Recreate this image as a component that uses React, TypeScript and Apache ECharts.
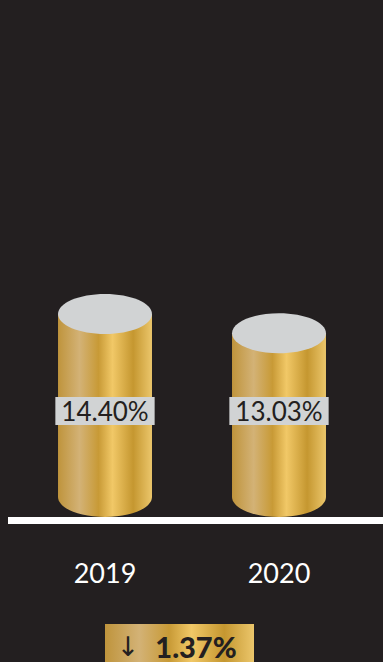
import React, { useEffect, useRef } from "react";
import * as echarts from "echarts";

const categories = ["2019", "2020"];
const values = [14.4, 13.03];
const yMax = 30;

const BG = "#231f20";
const CAP = "#d1d3d4";
const FONT = "Lato, 'Noto Sans', sans-serif";

const goldStops = [
  { offset: 0, color: "#bf943c" },
  { offset: 0.23, color: "#d3b276" },
  { offset: 0.43, color: "#c89a36" },
  { offset: 0.58, color: "#f1c867" },
  { offset: 0.8, color: "#c59730" },
  { offset: 1, color: "#ebc66b" },
];
const gold = () => new echarts.graphic.LinearGradient(0, 0, 1, 0, goldStops);

export default function App() {
  const ref = useRef<HTMLDivElement>(null);
  useEffect(() => {
    if (!ref.current) return;
    const chart = echarts.init(ref.current, null, { renderer: "svg" });
    const diff = (values[0] - values[1]).toFixed(2);
    chart.setOption({
      animation: false,
      backgroundColor: BG,
      grid: { left: 18, right: 17, top: 94, bottom: 145 },
      xAxis: {
        type: "category",
        data: categories,
        axisLine: { show: false },
        axisTick: { show: false },
        axisLabel: { color: "#ffffff", fontSize: 27, fontFamily: FONT, margin: 42 },
      },
      yAxis: { type: "value", min: 0, max: yMax, show: false },
      series: [
        {
          type: "custom",
          data: values.map((v, i) => [i, v]),
          encode: { x: 0, y: 1 },
          renderItem: (params: any, api: any) => {
            const idx = api.value(0);
            const v = api.value(1);
            const top = api.coord([idx, v]);
            const base = api.coord([idx, 0]);
            const w = api.size([1, 0])[0] * 0.54;
            const rx = w / 2;
            const ry = 20;
            const left = top[0] - rx;
            return {
              type: "group",
              children: [
                {
                  type: "rect",
                  shape: { x: left, y: top[1], width: w, height: base[1] - ry - top[1] },
                  style: { fill: gold() },
                },
                {
                  type: "ellipse",
                  shape: { cx: top[0], cy: base[1] - ry, rx, ry },
                  style: { fill: gold() },
                },
                {
                  type: "ellipse",
                  shape: { cx: top[0], cy: top[1], rx, ry },
                  style: { fill: CAP },
                },
                {
                  type: "text",
                  style: {
                    text: v.toFixed(2) + "%",
                    x: top[0],
                    y: base[1] - 92,
                    align: "center",
                    verticalAlign: "bottom",
                    fill: BG,
                    fontSize: 26,
                    fontWeight: 400,
                    fontFamily: FONT,
                    lineHeight: 28,
                    backgroundColor: CAP,
                    padding: [0, 6],
                  },
                },
              ],
            };
          },
        },
      ],
      graphic: [
        {
          type: "rect",
          left: 8,
          top: 517,
          shape: { width: 375, height: 7 },
          style: { fill: "#ffffff" },
        },
        {
          type: "group",
          left: 105,
          top: 624,
          children: [
            {
              type: "rect",
              shape: { x: 0, y: 0, width: 149, height: 38 },
              style: { fill: gold() },
            },
            {
              type: "text",
              x: 23,
              y: 22,
              style: {
                text: "↓",
                align: "center",
                verticalAlign: "middle",
                fill: BG,
                fontSize: 27,
                lineHeight: 26,
                fontWeight: "normal",
                fontFamily: "'DejaVu Sans', sans-serif",
              },
            },
            {
              type: "text",
              x: 91,
              y: 22,
              style: {
                text: `${diff}%`,
                align: "center",
                verticalAlign: "middle",
                fill: BG,
                fontSize: 29,
                lineHeight: 26,
                fontWeight: 900,
                fontFamily: FONT,
              },
            },
          ],
        },
      ],
    });
    return () => chart.dispose();
  }, []);
  return (
    <div
      ref={ref}
      style={{ position: "fixed", left: 0, top: 0, width: 383, height: 662 }}
    />
  );
}
